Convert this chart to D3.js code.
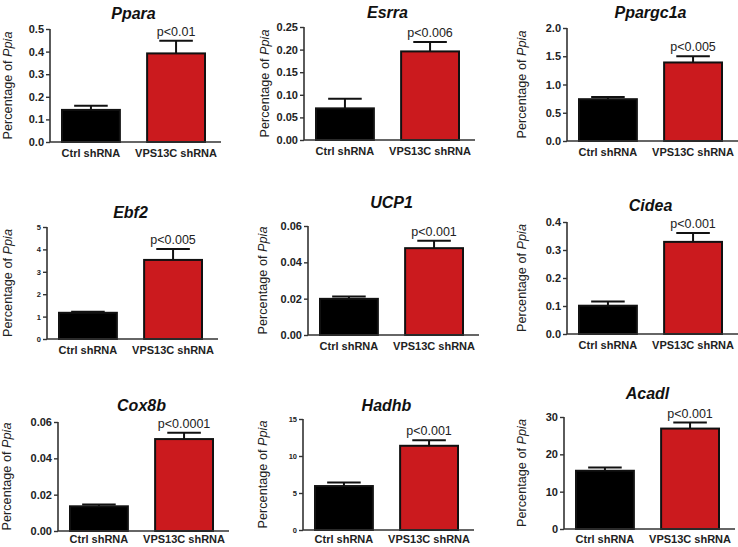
<!DOCTYPE html>
<html><head><meta charset="utf-8">
<script src="https://cdn.jsdelivr.net/npm/d3@7"></script>
<style>body{margin:0;background:#fff}svg{display:block}</style>
</head><body>
<svg id="c" width="738" height="547"></svg>
<script>
const genes = ["Ppara","Esrra","Ppargc1a","Ebf2","UCP1","Cidea","Cox8b","Hadhb","Acadl"];
const groups = ["Ctrl shRNA","VPS13C shRNA"];
const ctrlMean = [0.142,0.070,0.74,1.17,0.0199,0.101,0.0136,5.94,15.6];
const ctrlErr  = [0.018,0.021,0.04,0.05,0.0013,0.015,0.0010,0.49,0.9];
const vpsMean  = [0.392,0.196,1.39,3.53,0.0478,0.329,0.0506,11.38,26.9];
const vpsErr   = [0.056,0.021,0.11,0.49,0.0041,0.032,0.0035,0.76,1.6];
const pLabels  = ["p<0.01","p<0.006","p<0.005","p<0.005","p<0.001","p<0.001","p<0.0001","p<0.001","p<0.001"];
const yMax     = [0.5,0.25,2.0,5,0.06,0.4,0.06,15,30];
const yTicks   = [
  ["0.0","0.1","0.2","0.3","0.4","0.5"],
  ["0.00","0.05","0.10","0.15","0.20","0.25"],
  ["0.0","0.5","1.0","1.5","2.0"],
  ["0","1","2","3","4","5"],
  ["0.00","0.02","0.04","0.06"],
  ["0.0","0.1","0.2","0.3","0.4"],
  ["0.00","0.02","0.04","0.06"],
  ["0","5","10","15"],
  ["0","10","20","30"]
];

// layout (positions only)
const layout = [
  {ax:50, top:29, bot:142, lx:8, ty:19, cy:15, small:false},
  {ax:304, top:27, bot:140, lx:265, ty:18, cy:15, small:false},
  {ax:567, top:28, bot:141, lx:522, ty:18, cy:15, small:false},
  {ax:47, top:227, bot:339, lx:8, ty:218, cy:15, small:true},
  {ax:308, top:226, bot:335, lx:263, ty:208, cy:15, small:false},
  {ax:567, top:222, bot:334, lx:522, ty:211, cy:15, small:false},
  {ax:58, top:422, bot:531, lx:7, ty:411, cy:12, small:false},
  {ax:303, top:419, bot:530, lx:263, ty:411, cy:13, small:true},
  {ax:564, top:417, bot:529, lx:522, ty:399, cy:14, small:false}
];
const fills = ["#000000","#cb1a1e"];
const svg = d3.select("#c");
const FONT = "'Liberation Sans', Arial, sans-serif";

genes.forEach((g,i)=>{
  const L = layout[i];
  const g0 = svg.append("g");
  const x = d3.scaleBand().domain(groups).range([L.ax+12, L.ax+155]).paddingInner(0.32).paddingOuter(0);
  const y = d3.scaleLinear().domain([0,yMax[i]]).range([L.bot, L.top]);
  const means = [ctrlMean[i], vpsMean[i]];
  const errs = [ctrlErr[i], vpsErr[i]];
  const data = groups.map((k,j)=>({k, m:means[j], e:errs[j], f:fills[j]}));

  // error bars (upward only)
  const eb = g0.selectAll(".eb").data(data).enter().append("g");
  eb.append("line")
    .attr("x1", d=>x(d.k)+x.bandwidth()/2).attr("x2", d=>x(d.k)+x.bandwidth()/2)
    .attr("y1", d=>y(d.m)).attr("y2", d=>y(d.m+d.e))
    .attr("stroke","#111").attr("stroke-width",2);
  eb.append("line")
    .attr("x1", d=>x(d.k)+x.bandwidth()*0.21).attr("x2", d=>x(d.k)+x.bandwidth()*0.79)
    .attr("y1", d=>y(d.m+d.e)).attr("y2", d=>y(d.m+d.e))
    .attr("stroke","#111").attr("stroke-width",2);

  // bars
  g0.selectAll(".bar").data(data).enter().append("rect")
    .attr("x", d=>x(d.k)).attr("width", x.bandwidth())
    .attr("y", d=>y(d.m)).attr("height", d=>y(0)-y(d.m))
    .attr("fill", d=>d.f).attr("stroke","#111").attr("stroke-width",2);

  // y axis
  const tv = yTicks[i].map(Number);
  const yAxis = d3.axisLeft(y).tickValues(tv).tickFormat((d,j)=>yTicks[i][j]).tickSize(4).tickPadding(2);
  const ya = g0.append("g").attr("transform",`translate(${L.ax},0)`).call(yAxis);
  ya.select(".domain").attr("stroke","#333").attr("stroke-width",1.6).attr("d",`M0,${L.top}V${L.bot}`);
  ya.selectAll(".tick line").attr("stroke","#333").attr("stroke-width",1.4);
  ya.selectAll(".tick text").attr("font-family",FONT).attr("font-weight","bold")
    .attr("font-size", L.small?7.5:11).attr("fill","#222");

  // x axis line
  g0.append("line").attr("x1",L.ax).attr("x2",L.ax+171).attr("y1",L.bot).attr("y2",L.bot)
    .attr("stroke","#333").attr("stroke-width",1.6);

  // category labels
  g0.selectAll(".cat").data(groups).enter().append("text")
    .attr("x", d=>x(d)+x.bandwidth()/2).attr("y", L.bot+L.cy)
    .attr("text-anchor","middle").attr("font-family",FONT).attr("font-weight","bold")
    .attr("font-size",11).attr("fill","#222").text(d=>d);

  // title
  g0.append("text").attr("x", L.ax+12+71.5).attr("y", L.ty)
    .attr("text-anchor","middle").attr("font-family",FONT).attr("font-weight","bold")
    .attr("font-style","italic").attr("font-size",16).attr("fill","#111").text(g);

  // p label
  g0.append("text").attr("x", x(groups[1])+x.bandwidth()/2).attr("y", y(vpsMean[i]+vpsErr[i])-5)
    .attr("text-anchor","middle").attr("font-family",FONT)
    .attr("font-size",12.5).attr("fill","#222").text(pLabels[i]);

  // y label
  const yl = g0.append("text")
    .attr("transform",`translate(${L.lx},${(L.top+L.bot)/2}) rotate(-90)`)
    .attr("text-anchor","middle").attr("dominant-baseline","central")
    .attr("font-family",FONT).attr("font-size",12.7).attr("fill","#222");
  yl.append("tspan").text("Percentage of ");
  yl.append("tspan").attr("font-style","italic").text("Ppia");
});
</script>
</body></html>
